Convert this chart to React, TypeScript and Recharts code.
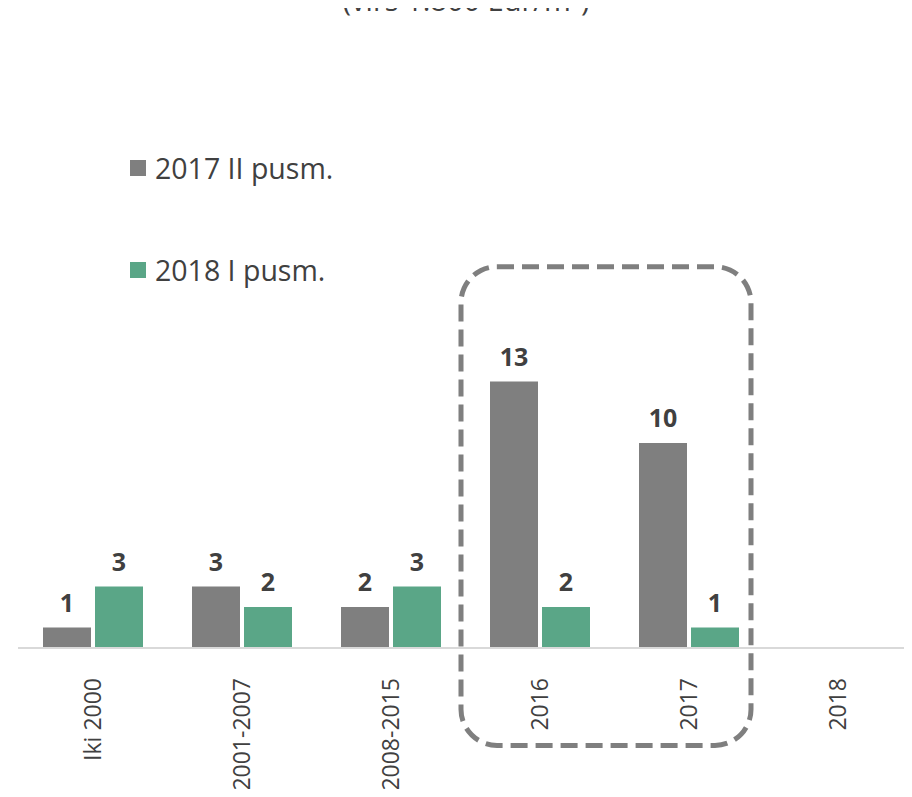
import React from "react";
import {
  BarChart,
  Bar,
  XAxis,
  YAxis,
  LabelList,
  ReferenceArea,
} from "recharts";

const categories = ["Iki 2000", "2001-2007", "2008-2015", "2016", "2017", "2018"];
const series2017II = [1, 3, 2, 13, 10, null];
const series2018I = [3, 2, 3, 2, 1, null];
const seriesNames = ["2017 II pusm.", "2018 I pusm."];

const COLORS = ["#7f7f7f", "#5aa687"];
const FONT = "'Open Sans', 'Noto Sans', sans-serif";

const data = categories.map((name, i) => ({
  name,
  a: series2017II[i],
  b: series2018I[i],
}));

function Tick({ x, y, payload }: any) {
  return (
    <text
      x={x + 8}
      y={y + 22}
      transform={`rotate(-90, ${x + 8}, ${y + 22})`}
      textAnchor="end"
      fontSize={23}
      fontFamily={FONT}
      fill="#404040"
    >
      {payload.value}
    </text>
  );
}

function LegendBox() {
  return (
    <div
      style={{
        position: "absolute",
        left: 130,
        top: 148,
        fontFamily: FONT,
        pointerEvents: "none",
      }}
    >
      {seriesNames.map((n, i) => (
        <div
          key={n}
          style={{
            display: "flex",
            alignItems: "center",
            height: 40,
            marginBottom: 62,
            fontSize: 28.5,
            color: "#404040",
            whiteSpace: "nowrap",
          }}
        >
          <span
            style={{
              width: 16,
              height: 16,
              background: COLORS[i],
              marginRight: 9,
              display: "inline-block",
            }}
          />
          {n}
        </div>
      ))}
    </div>
  );
}

function DashedBox(p: any) {
  return (
    <rect
      x={p.x - 4}
      y={p.y}
      width={p.width - 8}
      height={p.height}
      rx={36}
      ry={36}
      fill="none"
      stroke="#7f7f7f"
      strokeWidth={5}
      strokeDasharray="17 8"
    />
  );
}

const labelFmt = (v: any) => (v == null ? "" : v);

export default function App() {
  return (
    <div style={{ position: "relative", margin: -8, width: 912, height: 797 }}>
      <BarChart
        width={912}
        height={797}
        data={data}
        margin={{ top: 361, right: 0, left: 18, bottom: 0 }}
        barSize={48}
        barGap={4}
      >
        <XAxis
          dataKey="name"
          interval={0}
          height={149}
          tickLine={false}
          axisLine={{ stroke: "#d9d9d9", strokeWidth: 2 }}
          tick={<Tick />}
        />
        <YAxis hide domain={[0, 14]} />
        <Bar dataKey="a" name={seriesNames[0]} fill={COLORS[0]} isAnimationActive={false}>
          <LabelList
            dataKey="a"
            position="top"
            offset={16}
            formatter={labelFmt}
            fill="#404040"
            fontSize={25}
            fontWeight="bold"
            fontFamily={FONT}
          />
        </Bar>
        <Bar dataKey="b" name={seriesNames[1]} fill={COLORS[1]} isAnimationActive={false}>
          <LabelList
            dataKey="b"
            position="top"
            offset={16}
            formatter={labelFmt}
            fill="#404040"
            fontSize={25}
            fontWeight="bold"
            fontFamily={FONT}
          />
        </Bar>
        <ReferenceArea
          x1="2016"
          x2="2017"
          y1={-4.75}
          y2={18.6}
          ifOverflow="visible"
          shape={<DashedBox />}
        />
      </BarChart>
      <LegendBox />
      <svg
        width={912}
        height={40}
        style={{ position: "absolute", left: 0, top: 0, pointerEvents: "none" }}
      >
        <text x={466} y={11} textAnchor="middle" fontSize={29} fontFamily={FONT} fill="#404040">
          (virš 1.800 Eur/m²)
        </text>
      </svg>
    </div>
  );
}
